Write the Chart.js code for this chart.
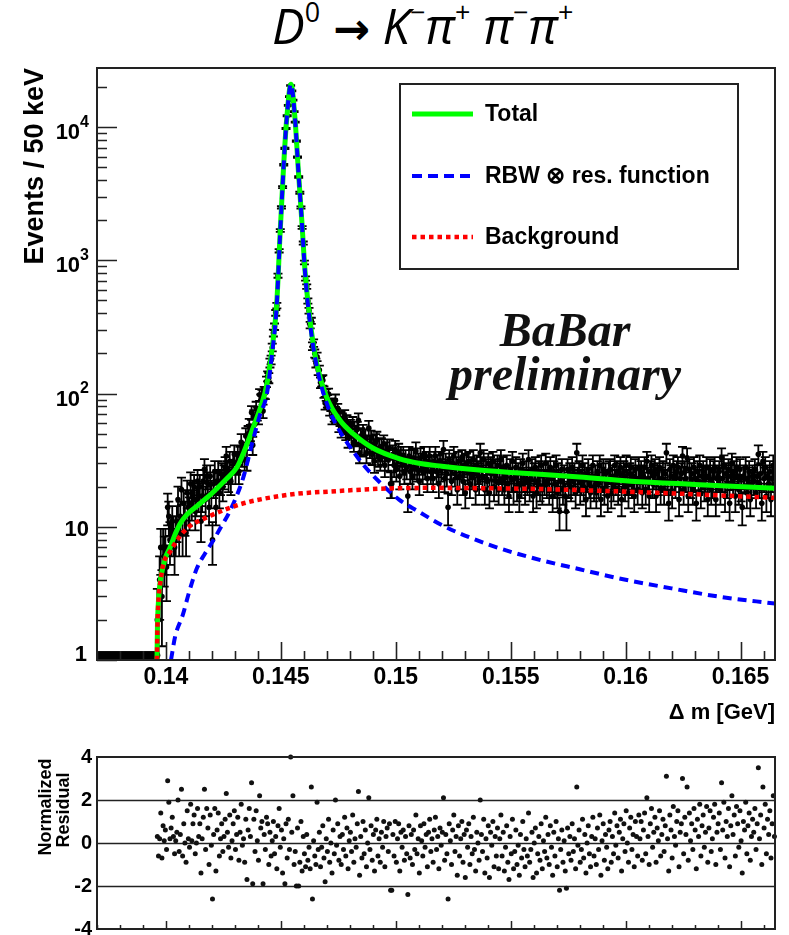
<!DOCTYPE html>
<html>
<head>
<meta charset="utf-8">
<script src="https://cdn.jsdelivr.net/npm/chart.js@4.4.1/dist/chart.umd.min.js"></script>
<style>
  html, body { margin: 0; padding: 0; background: #fff; }
  body { width: 789px; height: 935px; position: relative; overflow: hidden; }
  #title {
    position: absolute; left: 272px; top: -8px; white-space: nowrap;
    font: italic 49px "Open Sans", sans-serif; color: #000;
  }
  #title sup { font-size: 0.55em; font-style: normal; vertical-align: 0.8em; }
  #title .arr { font: bold 44px "DejaVu Sans", sans-serif; font-style: normal; }
  canvas { position: absolute; left: 0; }
</style>
</head>
<body>
<div id="title"><i>D</i><sup>0</sup> <span class="arr">&rarr;</span> <i>K</i><sup>&minus;</sup><i>&pi;</i><sup>+</sup> <i>&pi;</i><sup>&minus;</sup><i>&pi;</i><sup>+</sup></div>
<canvas id="main" width="789" height="735" style="top:0"></canvas>
<canvas id="resid" width="789" height="200" style="top:735px"></canvas>
<script>
// 50 keV bins, first bin centre at 0.137025 GeV
const FIRST_BIN = 0.137025;
const BIN_WIDTH = 0.00005;
const EMPTY_LEVEL = 1.08;   // where the empty bins sit on the log axis

// events per bin (52 empty bins below threshold, then data)
const counts = [
  0,0,0,0,0,0,0,0,0,0,0,0,0,0,0,0,0,0,0,0,0,0,0,0,0,0,
  0,0,0,0,0,0,0,0,0,0,0,0,0,0,0,0,0,0,0,0,0,0,0,0,0,0,
  2,2,4,7,3,7,6,7,5,14,12,8,9,11,9,7,9,11,16,9,
  12,19,9,15,12,9,18,14,13,21,15,18,20,13,16,22,17,20,11,17,
  22,27,16,24,21,14,24,18,8,21,26,14,22,26,18,22,25,20,24,28,
  34,26,23,31,22,26,31,35,26,30,35,26,34,43,34,37,32,48,32,50,
  57,51,72,41,67,59,78,71,67,98,89,97,74,102,101,123,135,131,170,179,
  222,285,318,404,458,768,1180,1675,2500,3546,5225,6940,9764,12182,14562,16951,20556,18698,15945,13075,
  10908,7851,5954,4224,3217,2496,1766,1349,964,731,636,496,419,327,352,227,240,200,170,189,
  150,150,121,124,126,103,85,98,88,99,77,83,67,82,70,89,69,75,59,65,
  54,63,57,67,52,61,46,54,56,48,59,43,50,47,54,63,36,48,40,51,
  41,47,36,42,55,39,46,35,42,31,43,45,34,39,32,40,35,42,29,37,
  39,32,39,21,21,35,29,38,27,32,36,24,34,30,34,26,32,28,17,34,
  26,32,24,33,28,37,27,30,22,33,30,26,34,28,31,23,31,34,26,29,
  23,31,34,26,29,21,31,27,30,38,23,30,25,14,32,28,22,30,34,25,
  28,19,31,24,28,32,22,29,18,30,26,31,21,28,24,32,25,19,29,26,
  22,36,28,24,32,19,27,22,30,18,28,25,31,20,27,22,29,19,26,32,
  22,28,19,24,29,21,17,27,23,31,19,23,28,20,25,17,27,21,30,23,
  19,26,22,32,20,23,27,17,25,28,18,22,26,20,29,19,25,22,30,21,
  26,19,28,23,17,26,21,29,18,25,13,22,27,19,24,17,13,27,21,25,
  20,28,22,25,18,36,23,26,19,22,29,20,25,16,23,27,21,18,24,29,
  20,24,18,26,21,29,16,23,27,19,25,22,17,26,27,18,24,20,29,22,
  26,19,25,28,16,23,26,20,29,22,18,25,28,21,24,17,27,23,19,28,
  23,26,18,24,28,19,31,23,17,26,29,21,24,27,17,25,22,28,19,23,
  26,19,25,36,22,15,27,24,18,29,23,21,26,28,16,23,25,34,19,26,
  23,33,17,27,21,25,19,28,23,15,26,22,29,18,24,26,20,23,28,16,
  24,27,19,21,26,28,16,23,24,26,19,33,23,29,17,25,21,27,15,24,
  30,22,26,17,28,24,19,27,20,14,24,23,28,18,23,26,16,21,24,22,
  27,18,24,35,21,25,15,31,23,28,17,24,21,26,16,23,29,21
];

// normalized residuals, one per filled bin (starting at bin 52)
const RESID_OFFSET = 52;
const residuals = [
  0.3,-0.6,0.2,1.4,-0.7,0.8,0.1,0.6,-0.3,2.9,1.9,0.2,0.7,1.2,0.3,-0.5,0.1,0.5,2.0,-0.4,
  0.4,2.5,-0.6,0.9,0.0,-0.9,1.5,0.2,-0.2,1.8,0.1,0.9,1.3,-0.5,0.0,1.6,0.3,0.9,-1.4,0.2,
  1.2,2.5,-0.3,1.6,0.7,-1.0,1.3,-0.1,-2.6,0.4,1.6,-1.3,0.6,1.4,-0.6,0.2,0.9,-0.4,0.3,1.1,
  2.3,0.5,-0.2,1.3,-0.7,0.1,0.9,1.5,-0.3,0.4,1.2,-0.8,0.5,1.8,-0.1,0.2,-0.9,1.1,-1.7,0.6,
  1.6,0.3,2.8,-1.9,1.1,-0.4,1.5,0.1,-0.8,2.2,0.7,1.0,-1.9,0.4,-0.3,1.2,0.9,-1.0,0.5,-0.6,
  0.1,1.0,-0.5,0.3,-1.2,0.8,1.6,-0.2,0.6,-1.4,0.2,-1.9,0.9,-0.7,1.1,-0.3,4.0,0.5,2.2,-1.0,
  -0.4,-2.0,0.7,-2.0,-0.9,1.0,-1.3,0.3,-0.5,-1.1,0.4,-0.8,-0.2,-1.2,2.6,-2.6,0.1,-0.6,-1.0,1.9,
  -0.3,0.5,-1.1,-0.2,0.8,-0.7,-1.8,0.2,-0.4,1.1,-0.9,0.0,-1.4,0.6,-0.5,2.0,-0.1,0.9,-0.8,0.3,
  -1.0,0.4,-0.3,1.2,-0.6,0.7,-1.2,0.1,0.5,-0.4,1.3,-0.9,0.2,-0.2,0.9,2.4,-1.5,0.3,-0.7,1.0,
  -0.5,0.6,-1.1,0.0,2.1,-0.3,0.8,-0.8,0.4,-1.3,0.6,1.1,-0.6,0.2,-0.9,0.5,-0.2,1.0,-1.1,0.3,
  0.7,-0.4,0.9,-2.2,-2.2,0.4,-0.6,1.0,-0.9,0.2,0.9,-1.3,0.5,-0.2,0.6,-0.8,0.3,-0.5,-2.4,0.8,
  -0.7,0.4,-1.0,0.6,-0.3,1.3,-0.5,0.2,-1.4,0.8,0.1,-0.6,0.9,-0.2,0.4,-1.1,0.5,1.1,-0.4,0.2,
  -0.9,0.6,1.2,-0.3,0.3,-1.2,0.7,-0.1,0.5,2.1,-0.8,0.4,-0.5,-2.6,0.9,0.1,-1.0,0.6,1.3,-0.4,
  0.3,-1.5,0.8,-0.6,0.2,1.0,-0.9,0.4,-1.6,0.6,-0.2,0.9,-1.0,0.3,-0.5,1.2,-0.3,-1.3,0.5,0.0,
  -0.8,2.0,0.4,-0.4,1.1,-1.4,0.2,-0.7,0.8,-1.6,0.5,-0.1,1.0,-1.1,0.3,-0.6,0.7,-1.2,0.2,1.3,
  -0.6,0.5,-1.3,-0.2,0.8,-0.9,-1.7,0.3,-0.5,1.1,-1.2,-0.4,0.6,-1.0,-0.1,-1.5,0.4,-0.7,1.0,-0.3,
  -1.1,0.2,-0.6,1.4,-0.9,-0.3,0.5,-1.6,0.0,0.7,-1.4,-0.5,0.3,-0.8,0.9,-1.2,0.1,-0.4,1.2,-0.7,
  0.4,-1.0,0.8,-0.2,-1.5,0.5,-0.6,1.0,-1.1,0.2,-2.2,-0.3,0.6,-0.9,0.1,-1.3,-2.1,0.7,-0.5,0.3,
  -0.8,0.9,-0.4,0.2,-1.2,2.6,-0.1,0.6,-0.9,-0.3,1.1,-0.7,0.4,-1.4,0.0,0.8,-0.5,-1.1,0.3,1.2,
  -0.6,0.2,-1.0,0.7,-0.3,1.3,-1.5,0.1,0.9,-0.8,0.4,-0.2,-1.2,0.6,1.0,-0.9,0.3,-0.5,1.4,-0.1,
  0.8,-0.7,0.5,1.1,-1.3,0.2,0.9,-0.4,1.5,0.0,-0.9,0.7,1.2,-0.3,0.4,-1.1,1.0,0.3,-0.6,1.3,
  0.2,1.0,-0.8,0.6,1.4,-0.5,2.1,0.3,-1.0,0.9,1.6,-0.2,0.5,1.2,-0.9,0.7,0.1,1.5,-0.6,0.4,
  1.1,-0.4,0.8,3.1,0.2,-1.3,1.3,0.6,-0.7,1.7,0.3,-0.1,1.0,1.5,-1.1,0.5,0.9,3.0,-0.5,1.2,
  0.4,2.6,-0.8,1.4,0.1,0.9,-0.3,1.6,0.6,-1.2,1.1,0.3,1.8,-0.6,0.8,1.3,-0.2,0.5,1.7,-0.9,
  0.7,1.5,-0.4,0.2,1.2,1.8,-1.0,0.5,0.9,1.4,-0.3,2.8,0.6,1.9,-0.7,1.0,0.3,1.6,-1.1,0.8,
  2.2,0.4,1.3,-0.6,1.7,0.9,-0.2,1.5,0.1,-1.4,1.0,0.6,1.9,-0.5,0.8,1.4,-0.8,0.3,1.1,0.5,
  1.6,-0.3,0.9,3.5,0.2,1.3,-1.0,2.6,0.7,1.8,-0.5,1.1,0.4,1.5,-0.7,0.9,2.2,0.3
];

// fit curves [Δm GeV, events]
const totalFit = [
  [0.13961,1.0],[0.13963,1.8],[0.13966,2.5],[0.1397,3.2],[0.13976,4.0],[0.13985,4.8],
  [0.14,6.0],[0.14018,7.0],[0.1404,8.8],[0.14061,10.5],[0.1409,12.3],[0.14135,14.3],
  [0.1418,16.6],[0.14222,19.4],[0.1426,22.6],[0.14309,28],[0.14335,35],
  [0.14366,48],[0.1439,62],[0.14415,82],[0.14438,115],[0.1446,205],[0.14482,475],
  [0.14496,1500],[0.14511,4750],[0.14525,11300],[0.14544,21000],[0.14562,11300],
  [0.14576,4750],[0.14591,2000],[0.14605,840],[0.14627,354],[0.14656,168],[0.14699,94],
  [0.14757,63],[0.14814,50],[0.149,39],[0.15014,32.5],[0.151,30],[0.152,28.5],
  [0.1535,26.8],[0.15519,25.5],[0.158,23.6],[0.16023,22],[0.163,20.8],[0.1665,19.5]
];
const signalFit = [
  [0.14022,1.0],[0.1404,1.5],[0.14074,2.2],[0.141,3.2],[0.14135,4.9],[0.1417,6.3],
  [0.14205,7.85],[0.1424,10],[0.14279,13.2],[0.14335,23],[0.14379,45],[0.1441,70],
  [0.14438,97],[0.1446,188],[0.14482,460],[0.14496,1480],[0.14511,4730],[0.14525,11280],
  [0.14544,20980],[0.14562,11280],[0.14576,4730],[0.14591,1980],[0.14605,820],
  [0.14627,336],[0.14656,160],[0.14699,85],[0.14757,52],[0.148,40],[0.1486,29],
  [0.1495,20],[0.15014,16],[0.151,13],[0.152,10.3],[0.154,7.4],[0.156,5.8],
  [0.158,4.8],[0.16,4.0],[0.162,3.45],[0.164,3.0],[0.1665,2.65]
];
const bkgFit = [
  [0.13961,1.0],[0.13963,1.8],[0.13966,2.5],[0.1397,3.2],[0.13977,4.0],[0.13988,5.2],
  [0.14018,6.5],[0.14061,8.5],[0.141,10],[0.14179,11.8],[0.14279,13.9],[0.1435,15.2],
  [0.14422,16.2],[0.1457,17.7],[0.14714,18.4],[0.1493,19.3],[0.1515,19.6],[0.1535,19.5],
  [0.1563,19.2],[0.16137,18.0],[0.1665,16.5]
];

const yDecades = [1, 10, 100, 1000, 10000];
const yDecadeLabels = [['1', ''], ['10', ''], ['10', '2'], ['10', '3'], ['10', '4']];
const xTicks = [0.14, 0.145, 0.15, 0.155, 0.16, 0.165];
const xTickLabels = ['0.14', '0.145', '0.15', '0.155', '0.16', '0.165'];
const residTicks = [-4, -2, 0, 2, 4];
const residLines = [-2, 0, 2];

const SANS = '"Liberation Sans", Arial, sans-serif';
const X_MIN = 0.137, X_MAX = 0.1665;

Chart.defaults.color = '#000';

const dataPts = counts.map((n, i) => ({ x: FIRST_BIN + i * BIN_WIDTH, y: n > 0 ? n : EMPTY_LEVEL }));
const residPts = residuals.map((r, i) => ({ x: FIRST_BIN + (i + RESID_OFFSET) * BIN_WIDTH, y: r }));
const toXY = arr => arr.map(([x, y]) => ({ x, y }));

const errorBars = {
    id: 'errorBars',
    beforeDatasetsDraw(chart) {
        const { ctx, chartArea: a, scales: { x, y } } = chart;
        ctx.save();
        ctx.beginPath();
        ctx.rect(a.left, a.top, a.width, a.height);
        ctx.clip();
        ctx.strokeStyle = '#000';
        ctx.lineWidth = 1.8;
        ctx.beginPath();
        counts.forEach((n, i) => {
            if (n <= 0) return;
            const px = x.getPixelForValue(FIRST_BIN + i * BIN_WIDTH);
            const e = Math.sqrt(n);
            const top = y.getPixelForValue(n + e);
            const hasLow = n - e > 0.5;
            const low = hasLow ? y.getPixelForValue(n - e) : a.bottom + 5;
            ctx.moveTo(px, top); ctx.lineTo(px, low);
            ctx.moveTo(px - 4.5, top); ctx.lineTo(px + 4.5, top);
            if (hasLow) { ctx.moveTo(px - 4.5, low); ctx.lineTo(px + 4.5, low); }
        });
        ctx.stroke();
        ctx.restore();
    }
};

const mainFrame = {
    id: 'mainFrame',
    afterDraw(chart) {
        const { ctx, chartArea: a, scales: { x, y } } = chart;
        ctx.save();
        ctx.strokeStyle = '#222';
        ctx.lineWidth = 1.6;
        ctx.beginPath();
        // y ticks, inside the frame
        for (let d = 1; d <= 10000; d *= 10) {
            for (let k = 1; k <= 9; k++) {
                const v = d * k;
                if (v > y.max) break;
                const py = Math.round(y.getPixelForValue(v)) + 0.5;
                ctx.moveTo(a.left, py);
                ctx.lineTo(a.left + (k === 1 ? 20 : 10), py);
            }
        }
        // x ticks
        for (let t = 137; t <= 166; t++) {
            const px = Math.round(x.getPixelForValue(t / 1000)) + 0.5;
            ctx.moveTo(px, a.bottom);
            ctx.lineTo(px, a.bottom - (t % 5 === 0 ? 18 : 9));
        }
        ctx.stroke();
        ctx.lineWidth = 2;
        ctx.strokeRect(a.left, a.top, a.width, a.height);

        // decade labels with raised exponents
        ctx.fillStyle = '#000';
        ctx.textAlign = 'right';
        ctx.textBaseline = 'middle';
        yDecades.forEach((v, i) => {
            const py = y.getPixelForValue(v);
            const [base, exp] = yDecadeLabels[i];
            let right = a.left - 8;
            if (exp) {
                ctx.font = 'bold 16px ' + SANS;
                ctx.fillText(exp, right, py - 5);
                right -= ctx.measureText(exp).width;
                ctx.font = 'bold 22px ' + SANS;
                ctx.fillText(base, right, py + 6);
            } else {
                ctx.font = 'bold 22px ' + SANS;
                ctx.fillText(base, right - (base === '1' ? 2 : 0), Math.min(py + 3, a.bottom - 5));
            }
        });

        // legend
        const box = { l: 400, t: 84, w: 338, h: 185 };
        ctx.fillStyle = '#fff';
        ctx.fillRect(box.l, box.t, box.w, box.h);
        ctx.strokeStyle = '#222';
        ctx.lineWidth = 2;
        ctx.strokeRect(box.l, box.t, box.w, box.h);
        const rows = [114, 176, 237];
        chart.data.datasets.slice(1).forEach((ds, i) => {
            ctx.save();
            ctx.strokeStyle = ds.borderColor;
            ctx.lineWidth = ds.borderWidth;
            ctx.setLineDash(ds.legendDash || []);
            ctx.beginPath();
            ctx.moveTo(412, rows[i]);
            ctx.lineTo(473, rows[i]);
            ctx.stroke();
            ctx.restore();
            ctx.fillStyle = '#000';
            ctx.font = 'bold 23px ' + SANS;
            ctx.textBaseline = 'middle';
            ctx.textAlign = 'left';
            ctx.fillText(ds.label, 485, rows[i] + 1);
        });

        // experiment stamp
        ctx.fillStyle = '#111';
        ctx.font = 'italic bold 48px "Liberation Serif", "Times New Roman", serif';
        ctx.textAlign = 'center';
        ctx.textBaseline = 'alphabetic';
        ctx.fillText('BaBar', 565, 346);
        ctx.fillText('preliminary', 565, 390);
        ctx.restore();
    }
};

new Chart(document.getElementById('main'), {
    type: 'scatter',
    data: {
        datasets: [{
            label: 'Data',
            data: dataPts,
            backgroundColor: '#000',
            borderWidth: 0,
            pointRadius: counts.map(n => n > 0 ? 2.8 : 4.2),
            order: 10,
            clip: 0
        }, {
            label: 'Total',
            data: toXY(totalFit),
            showLine: true,
            borderColor: '#00ff00',
            borderWidth: 5,
            pointRadius: 0,
            cubicInterpolationMode: 'monotone',
            order: 3,
            clip: 0
        }, {
            label: 'RBW \u2297 res. function',
            data: toXY(signalFit),
            showLine: true,
            borderColor: '#0000ff',
            borderWidth: 4,
            borderDash: [9, 6],
            legendDash: [10, 6],
            pointRadius: 0,
            cubicInterpolationMode: 'monotone',
            order: 2,
            clip: 0
        }, {
            label: 'Background',
            data: toXY(bkgFit),
            showLine: true,
            borderColor: '#ff0000',
            borderWidth: 4.5,
            borderDash: [4.5, 3.8],
            legendDash: [4.5, 4],
            pointRadius: 0,
            cubicInterpolationMode: 'monotone',
            order: 1,
            clip: 0
        }]
    },
    options: {
        responsive: false,
        animation: false,
        devicePixelRatio: 1,
        layout: { padding: { top: 68, right: 14, left: 0, bottom: 0 } },
        plugins: { legend: { display: false }, tooltip: { enabled: false } },
        scales: {
            x: {
                type: 'linear',
                min: X_MIN,
                max: X_MAX,
                afterBuildTicks: s => { s.ticks = xTicks.map(v => ({ value: v })); },
                afterFit: s => { s.height = 75; s.paddingLeft = 0; s.paddingRight = 0; },
                grid: { display: false, drawTicks: false },
                border: { display: false },
                ticks: {
                    callback: (v, i) => xTickLabels[i],
                    font: { family: SANS, size: 23, weight: 'bold' },
                    padding: 4,
                    maxRotation: 0,
                    autoSkip: false
                },
                title: {
                    display: true,
                    text: '\u0394 m [GeV]',
                    align: 'end',
                    font: { family: SANS, size: 22, weight: 'bold' },
                    padding: { top: 0, bottom: 9 }
                }
            },
            y: {
                type: 'logarithmic',
                min: 1,
                max: 27800,
                afterBuildTicks: s => { s.ticks = yDecades.map(v => ({ value: v })); },
                afterFit: s => { s.width = 97; s.paddingTop = 0; s.paddingBottom = 0; },
                grid: { display: false, drawTicks: false },
                border: { display: false },
                ticks: { display: false },
                title: {
                    display: true,
                    text: 'Events / 50 keV',
                    align: 'end',
                    font: { family: SANS, size: 27, weight: 'bold' },
                    padding: { top: 19, bottom: 0 }
                }
            }
        }
    },
    plugins: [errorBars, mainFrame]
});

const residFrame = {
    id: 'residFrame',
    beforeDatasetsDraw(chart) {
        const { ctx, chartArea: a, scales: { y } } = chart;
        ctx.save();
        ctx.strokeStyle = '#222';
        ctx.lineWidth = 1.6;
        ctx.beginPath();
        residLines.forEach(v => {
            const py = Math.round(y.getPixelForValue(v)) + 0.5;
            ctx.moveTo(a.left, py);
            ctx.lineTo(a.right, py);
        });
        ctx.stroke();
        ctx.restore();
    },
    afterDraw(chart) {
        const { ctx, chartArea: a, scales: { x } } = chart;
        ctx.save();
        ctx.strokeStyle = '#222';
        ctx.lineWidth = 1.5;
        ctx.beginPath();
        for (let t = 137; t <= 166; t++) {
            const px = Math.round(x.getPixelForValue(t / 1000)) + 0.5;
            ctx.moveTo(px, a.bottom);
            ctx.lineTo(px, a.bottom - (t % 5 === 0 ? 8 : 4));
        }
        ctx.stroke();
        ctx.lineWidth = 2;
        ctx.strokeRect(a.left, a.top, a.width, a.height);

        ctx.fillStyle = '#000';
        ctx.font = 'bold 18px ' + SANS;
        ctx.textAlign = 'center';
        ctx.textBaseline = 'middle';
        ctx.translate(46, 72);
        ctx.rotate(-Math.PI / 2);
        ctx.fillText('Normalized', 0, 0);
        ctx.fillText('Residual', -3, 18);
        ctx.restore();
    }
};

new Chart(document.getElementById('resid'), {
    type: 'scatter',
    data: {
        datasets: [{
            label: 'Normalized Residual',
            data: residPts,
            backgroundColor: '#111',
            borderWidth: 0,
            pointRadius: 2.5,
            clip: 3
        }]
    },
    options: {
        responsive: false,
        animation: false,
        devicePixelRatio: 1,
        layout: { padding: { top: 22, right: 14, left: 0, bottom: 6 } },
        plugins: { legend: { display: false }, tooltip: { enabled: false } },
        scales: {
            x: { type: 'linear', min: X_MIN, max: X_MAX, display: false },
            y: {
                type: 'linear',
                min: -4,
                max: 4,
                afterBuildTicks: s => { s.ticks = residTicks.map(v => ({ value: v })); },
                afterFit: s => { s.width = 97; s.paddingTop = 0; s.paddingBottom = 0; },
                grid: { display: false, drawTicks: false },
                border: { display: false },
                ticks: {
                    font: { family: SANS, size: 20, weight: 'bold' },
                    padding: 5,
                    autoSkip: false
                }
            }
        }
    },
    plugins: [residFrame]
});
</script>
</body>
</html>
